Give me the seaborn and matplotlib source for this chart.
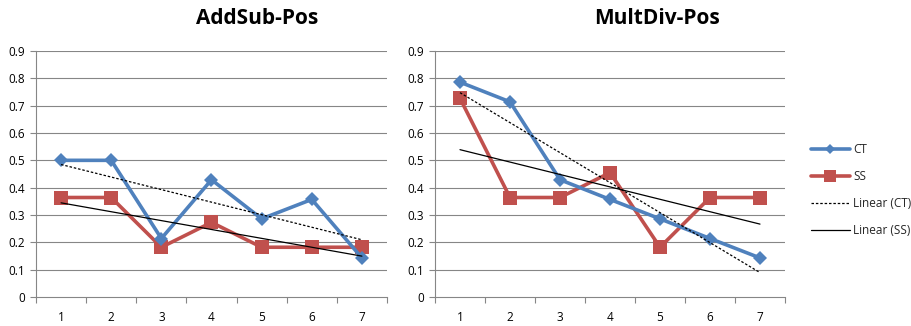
import numpy as np
import pandas as pd
import matplotlib
matplotlib.use("Agg")
import matplotlib.pyplot as plt
from matplotlib.lines import Line2D
import seaborn as sns

sns.set_theme(style="white")
plt.rcParams["font.family"] = ["Open Sans", "DejaVu Sans"]

groups = [1, 2, 3, 4, 5, 6, 7]
addsub_ct = [0.500, 0.500, 0.214, 0.429, 0.286, 0.357, 0.143]
addsub_ss = [0.364, 0.364, 0.182, 0.273, 0.182, 0.182, 0.182]
multdiv_ct = [0.786, 0.714, 0.429, 0.357, 0.286, 0.214, 0.143]
multdiv_ss = [0.727, 0.364, 0.364, 0.455, 0.182, 0.364, 0.364]
titles = ["AddSub-Pos", "MultDiv-Pos"]
y_ticks = [0, 0.1, 0.2, 0.3, 0.4, 0.5, 0.6, 0.7, 0.8, 0.9]
y_tick_labels = ["0", "0.1", "0.2", "0.3", "0.4", "0.5", "0.6", "0.7", "0.8", "0.9"]

BLUE = "#4F81BD"
RED = "#C0504D"
GRID = "#868686"

fig = plt.figure(figsize=(9.12, 3.26), dpi=100)
axes_rects = [
    [36 / 912, 29 / 326, 351 / 912, 246 / 326],
    [435 / 912, 29 / 326, 350 / 912, 246 / 326],
]
title_x = [257 / 912, 657 / 912]


def draw_panel(ax, ct, ss, title, tx):
    x = np.array(groups, dtype=float)
    df = pd.DataFrame({"x": x, "CT": ct, "SS": ss})
    # linear trend lines
    for col, ls in (("CT", (0, (2, 1.5))), ("SS", "-")):
        k, b = np.polyfit(x, df[col], 1)
        sns.lineplot(x=x, y=k * x + b, ax=ax, color="black", lw=0.9,
                     linestyle=ls, zorder=4)
    sns.lineplot(data=df, x="x", y="SS", ax=ax, color=RED, lw=2.6,
                 marker="s", markersize=10, markeredgewidth=0, zorder=3)
    sns.lineplot(data=df, x="x", y="CT", ax=ax, color=BLUE, lw=2.6,
                 marker="D", markersize=7, markeredgewidth=0, zorder=3)

    ax.set_xlim(0.5, 7.5)
    ax.set_ylim(0, 0.9)
    ax.set_yticks(y_ticks)
    ax.set_yticklabels(y_tick_labels)
    ax.set_xticks(groups)
    ax.set_xticklabels([str(g) for g in groups])
    ax.set_xticks(np.arange(0.5, 7.6, 1.0), minor=True)
    ax.tick_params(axis="x", which="major", length=0, pad=10, labelsize=8.5,
                   colors="black")
    ax.tick_params(axis="x", which="minor", length=4, width=0.8, color=GRID,
                   direction="out", bottom=True)
    ax.tick_params(axis="y", length=4, width=0.8, color=GRID, direction="out",
                   left=True, pad=4, labelsize=8.5, labelcolor="black")
    ax.set_xlabel("")
    ax.set_ylabel("")
    ax.grid(False)
    for yv in y_ticks[1:]:
        ax.axhline(yv, color=GRID, lw=0.8, zorder=1)
    for side in ("top", "right"):
        ax.spines[side].set_visible(False)
    for side in ("left", "bottom"):
        ax.spines[side].set_color(GRID)
        ax.spines[side].set_linewidth(0.8)
    fig.text(tx, 1 - 19 / 326, title, ha="center", va="center",
             fontsize=15, fontweight="bold", color="black")


panels = [(addsub_ct, addsub_ss), (multdiv_ct, multdiv_ss)]
for rect, (ct, ss), title, tx in zip(axes_rects, panels, titles, title_x):
    ax = fig.add_axes(rect)
    draw_panel(ax, ct, ss, title, tx)

handles = [
    Line2D([], [], color=BLUE, lw=2.6, marker="D", markersize=5,
           markeredgewidth=0),
    Line2D([], [], color=RED, lw=2.6, marker="s", markersize=8,
           markeredgewidth=0),
    Line2D([], [], color="black", lw=0.9, linestyle=(0, (2, 1.5))),
    Line2D([], [], color="black", lw=0.9),
]
labels = ["CT", "SS", "Linear (CT)", "Linear (SS)"]
fig.legend(handles, labels, loc="center left",
           bbox_to_anchor=(806 / 912, 1 - 190 / 326), frameon=False,
           fontsize=8.5, handlelength=3.3, handletextpad=0.3,
           labelspacing=1.2, borderaxespad=0)

fig.savefig("out.png", dpi=100)
